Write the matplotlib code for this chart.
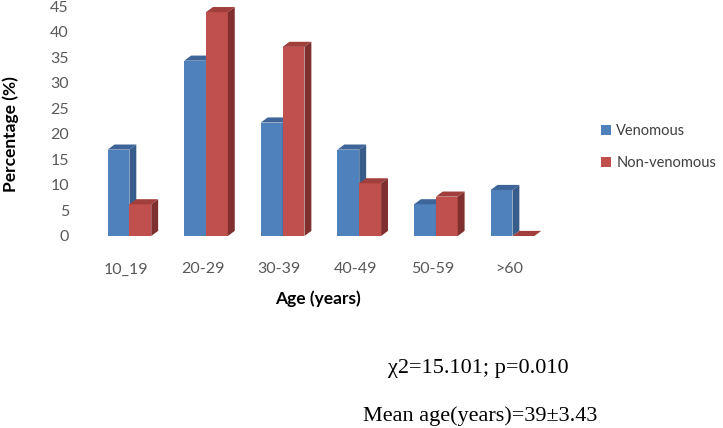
import numpy as np
import matplotlib
matplotlib.use('Agg')
import matplotlib.pyplot as plt
from matplotlib.patches import Rectangle, Polygon, Patch

# data
age_groups = ['10_19', '20-29', '30-39', '40-49', '50-59', '>60']
venomous = [16.9, 34.3, 22.2, 16.9, 6.2, 9.0]
non_venomous = [6.2, 43.8, 37.0, 10.3, 7.7, 0.0]

series = [
    ('Venomous', venomous, '#4F81BD', '#3D659A', '#385D8A'),
    ('Non-venomous', non_venomous, '#C0504D', '#A03F3C', '#7F302E'),
]

plt.rcParams['font.family'] = ['Lato', 'DejaVu Sans']

fig = plt.figure(figsize=(7.23, 4.28), dpi=100)
ax = fig.add_axes([80 / 723, 1 - 236 / 428, 475 / 723, 230 / 428])

w = 0.285      # bar width (category units)
dx = 0.09      # depth offset in x
dy = 1.0       # depth offset in y
shift = 0.045

x = np.arange(len(age_groups))
for k, (name, vals, front, top, side) in enumerate(series):
    for xi, h in zip(x, vals):
        x0 = xi + shift - w + k * w
        ax.add_patch(Rectangle((x0, 0), w, h, facecolor=front, edgecolor='none'))
        ax.add_patch(Polygon([(x0, h), (x0 + dx, h + dy), (x0 + w + dx, h + dy), (x0 + w, h)],
                             closed=True, facecolor=top, edgecolor='none'))
        ax.add_patch(Polygon([(x0 + w, 0), (x0 + w + dx, dy), (x0 + w + dx, h + dy), (x0 + w, h)],
                             closed=True, facecolor=side, edgecolor='none'))

ax.set_xlim(-0.6, 5.6)
ax.set_ylim(0, 45)
ax.set_yticks(range(0, 46, 5))
ax.set_xticks(x)
ax.set_xticklabels(age_groups)
ax.tick_params(axis='both', length=0, labelsize=11.5, colors='#595959')
ax.tick_params(axis='y', pad=8)
ax.tick_params(axis='x', pad=19)
for s in ax.spines.values():
    s.set_visible(False)

ax.set_xlabel('Age (years)', fontsize=12.5, fontweight='bold', labelpad=10)
fig.text(11 / 723, 1 - 134 / 428, 'Percentage (%)', rotation=90, fontsize=12.5,
         fontweight='bold', ha='center', va='center')

handles = [Patch(facecolor=s[2], edgecolor='none') for s in series]
fig.legend(handles, [s[0] for s in series], loc='center left',
           bbox_to_anchor=(588 / 723, 1 - 147 / 428), frameon=False,
           fontsize=10.5, labelcolor='#404040', handlelength=0.7, handleheight=0.7,
           handletextpad=0.35, labelspacing=1.25)

fig.text(478 / 723, 1 - 368 / 428, '\u03c72=15.101; p=0.010', fontsize=16,
         family='Liberation Serif', ha='center', va='center')
fig.text(480 / 723, 1 - 416 / 428, 'Mean age(years)=39\u00b13.43', fontsize=16,
         family='Liberation Serif', ha='center', va='center')

fig.savefig('out.png', dpi=100)
